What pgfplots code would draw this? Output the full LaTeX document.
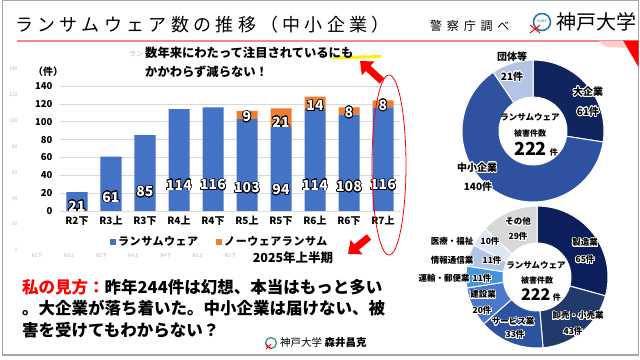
\documentclass[border=0pt]{standalone}
\usepackage{pgfplots}
\pgfplotsset{compat=1.18}
\usepackage{pgfplotstable}
\usepackage{fontspec}
\setmainfont{Noto Sans CJK JP}
\usepackage{contour}
\contourlength{0.7pt}
\contournumber{24}
\usetikzlibrary{arrows.meta}
\definecolor{ranblue}{HTML}{4472C4}
\definecolor{noorange}{HTML}{ED7D31}
\definecolor{titleline}{HTML}{F08A8A}
\definecolor{dA}{HTML}{10245E}
\definecolor{dB}{HTML}{2F52A0}
\definecolor{dC}{HTML}{B4C4E4}
\definecolor{eA}{HTML}{0C1F5C}
\definecolor{eB}{HTML}{213A6C}
\definecolor{eC}{HTML}{2D52A0}
\definecolor{eD}{HTML}{4A78CD}
\definecolor{eE}{HTML}{4196DE}
\definecolor{eF}{HTML}{B0C4E8}
\definecolor{eG}{HTML}{DDE6F4}
\definecolor{eH}{HTML}{D8D8D8}

\pgfplotstableread{
x ran nw
0 21 0
1 61 0
2 85 0
3 114 0
4 116 0
5 103 9
6 94 21
7 114 14
8 108 8
9 116 8
}\bardata

\pgfplotsset{
  vallab/.style={
    nodes near coords={\ifdim\rawv pt>0.5pt\contour{black}{\textcolor{white}{\pgfmathprintnumber{\rawv}}}\fi},
    every node near coord/.style={anchor=center, inner sep=0pt,
      yshift=-\rawv*0.22321pt, font=\bfseries\fontsize{14}{16}\selectfont},
  }
}

\begin{document}
\begin{tikzpicture}[x=1pt,y=1pt]
\path[use as bounding box] (0,0) rectangle (640,359);
\fill[white] (0,0) rectangle (640,359);

% ghost axis (faint)
\begin{axis}[at={(21pt,109pt)}, anchor=south west, scale only axis,
  width=322pt, height=181pt,
  xmin=-0.5, xmax=9.5, ymin=0, ymax=140, ytick={0,20,...,140}, xtick={0,...,6},
  xticklabels={R2下,R3上,R3下,R4上,R4下,R5上,R5下},
  axis line style={draw=none}, major tick length=0pt,
  tick label style={font=\fontsize{5}{6}\selectfont, text=gray!55},
  /pgf/number format/assume math mode=true]
\addplot[draw=none, forget plot] coordinates {(0,0)};
\end{axis}
\node[font=\fontsize{7}{8}\selectfont, text=gray!55] at (136,305) {ラン};

% frame
\draw[gray!70, line width=1.5pt] (2.5,4) rectangle (638.5,358.5);

% title
\node[anchor=west, inner sep=0, font=\fontsize{18}{20}\selectfont\addfontfeature{LetterSpace=24}] at (15,334) {ランサムウェア数の推移（中小企業）};
\node[anchor=west, inner sep=0, font=\fontsize{12}{14}\selectfont\addfontfeature{LetterSpace=40}] at (430,333) {警察庁調べ};
\draw[color={rgb,255:red,40;green,120;blue,170}, line width=1.6pt] (542,337) circle (8.5);
\node[font=\fontsize{3.5}{4}\selectfont, text={rgb,255:red,40;green,120;blue,170}] at (542,338) {KOBE};
\draw[red, line width=1pt] (530,326) -- (540,334) (530,334) -- (540,326);
\node[anchor=west, inner sep=0, font=\fontsize{20}{22}\selectfont] at (556,337) {神戸大学};
\draw[titleline, line width=1.5pt] (17,318) -- (624,318);
\fill[red!20] (598,318) -- (624,318) -- (628,311) -- (606,312) -- cycle;
\fill[red] (623,318.7) -- (638.5,318.7) -- (638.5,292) -- cycle;

% main bar chart
\begin{axis}[at={(60pt,148pt)}, anchor=south west, scale only axis,
  width=340pt, height=125pt,
  ybar stacked, bar width=21pt,
  xmin=-0.5, xmax=9.5, ymin=0, ymax=140, ytick={0,20,...,140},
  xtick={0,...,9},
  xticklabels={R2下,R3上,R3下,R4上,R4下,R5上,R5下,R6上,R6下,R7上},
  ymajorgrids, grid style={draw=gray!30, line width=0.6pt},
  axis line style={draw=none}, major tick length=0pt,
  yticklabel style={font=\bfseries\fontsize{9.5}{11}\selectfont, xshift=-4pt},
  xticklabel style={font=\bfseries\fontsize{10}{12}\selectfont, yshift=-2pt},
  /pgf/number format/assume math mode=true,
  legend style={at={(0.47,-0.248)}, anchor=center, draw=none, fill=none,
    legend columns=2,
    font=\bfseries\fontsize{11}{13}\selectfont\addfontfeature{LetterSpace=5},
    /tikz/every even column/.append style={column sep=16pt}},
  legend image code/.code={\fill[#1,draw=none] (0pt,-3pt) rectangle (6pt,3pt);},
]
\addplot[fill=ranblue, draw=none, visualization depends on={\thisrow{ran}\as\rawv}, vallab]
  table[x=x,y=ran] \bardata;
\addplot[fill=noorange, draw=none, visualization depends on={\thisrow{nw}\as\rawv}, vallab]
  table[x=x,y=nw] \bardata;
\legend{ランサムウェア, ノーウェアランサム}
\end{axis}
\node[font=\bfseries\fontsize{10}{12}\selectfont] at (48,287) {（件）};

% annotation
\draw[yellow, line width=3pt] (333,301) -- (381,302.5);
\node[anchor=west, inner sep=0, font=\bfseries\fontsize{12.3}{14}\selectfont] at (145,306) {数年来にわたって注目されているにも};
\node[anchor=west, inner sep=0, font=\bfseries\fontsize{12.3}{14}\selectfont] at (145,287) {かかわらず減らない！};
\draw[red, line width=7pt, -{Triangle[length=11pt,width=18pt]}] (382,278) -- (360,298);
\draw[red, line width=7pt, -{Triangle[length=11pt,width=18pt]}] (369,122) -- (348,105);
\draw[red, line width=0.8pt] (389,194) ellipse (17 and 90);
\node[font=\bfseries\fontsize{12.5}{14}\selectfont] at (293,101) {2025年上半期};

% bottom text
\node[anchor=west, inner sep=0, font=\bfseries\fontsize{16.5}{18}\selectfont] at (22,72) {\textcolor{red}{私の見方：}昨年244件は幻想、本当はもっと多い};
\node[anchor=west, inner sep=0, font=\bfseries\fontsize{16.5}{18}\selectfont] at (22,51) {。大企業が落ち着いた。中小企業は届けない、被};
\node[anchor=west, inner sep=0, font=\bfseries\fontsize{16.5}{18}\selectfont] at (22,29) {害を受けてもわからない？};
\draw[color={rgb,255:red,40;green,140;blue,120}, line width=1.2pt] (271,16) circle (5.5);
\draw[red, line width=0.8pt] (266,10) -- (271,15) (266,15) -- (271,10);
\node[anchor=west, inner sep=0, font=\fontsize{10.5}{12}\selectfont] at (280,16) {神戸大学\ \textbf{森井昌克}};

% donut 1
\def\cx{533}\def\cy{228}\def\ro{71}\def\ri{34}\def\tot{222}
\gdef\cum{0}
\foreach \v/\c in {61/dA,140/dB,21/dC}{
  \pgfmathsetmacro\aS{90-\cum/\tot*360}
  \pgfmathsetmacro\aE{90-(\cum+\v)/\tot*360}
  \fill[\c, draw=white, line width=1pt] ({\cx+\ro*cos(\aS)},{\cy+\ro*sin(\aS)}) arc[start angle=\aS, end angle=\aE, radius=\ro pt] -- ({\cx+\ri*cos(\aE)},{\cy+\ri*sin(\aE)}) arc[start angle=\aE, end angle=\aS, radius=\ri pt] -- cycle;
  \pgfmathsetmacro\newcum{\cum+\v}
  \xdef\cum{\newcum}
}
\begin{scope}[every node/.style={font=\bfseries\fontsize{10}{12}\selectfont, inner sep=0}]
\node at (512,302) {\contour{white}{団体等}};
\node at (512,282) {\contour{white}{21件}};
\node at (588,267) {\contour{white}{大企業}};
\node at (588,247) {\contour{white}{61件}};
\node at (477,191) {\contour{white}{中小企業}};
\node at (478,172) {\contour{white}{140件}};
\end{scope}
\node[font=\bfseries\fontsize{8.5}{10}\selectfont] at (530,242) {ランサムウェア};
\node[font=\bfseries\fontsize{8}{10}\selectfont] at (530,226) {被害件数};
\node[font=\bfseries\fontsize{18}{20}\selectfont] at (536,210) {222\,{\fontsize{8}{10}\selectfont 件}};

% donut 2
\def\cx{537}\def\cy{82}\def\ro{71}\def\ri{34}
\gdef\cum{0}
\foreach \v/\c in {65/eA,43/eB,33/eC,20/eD,11/eE,11/eF,10/eG,29/eH}{
  \pgfmathsetmacro\aS{90-\cum/\tot*360}
  \pgfmathsetmacro\aE{90-(\cum+\v)/\tot*360}
  \fill[\c, draw=white, line width=1pt] ({\cx+\ro*cos(\aS)},{\cy+\ro*sin(\aS)}) arc[start angle=\aS, end angle=\aE, radius=\ro pt] -- ({\cx+\ri*cos(\aE)},{\cy+\ri*sin(\aE)}) arc[start angle=\aE, end angle=\aS, radius=\ri pt] -- cycle;
  \pgfmathsetmacro\newcum{\cum+\v}
  \xdef\cum{\newcum}
}
\begin{scope}[every node/.style={font=\bfseries\fontsize{8.5}{10}\selectfont, inner sep=0}]
\node at (518,137) {\contour{white}{その他}};
\node at (518,122) {\contour{white}{29件}};
\node at (585,116) {\contour{white}{製造業}};
\node at (585,99) {\contour{white}{65件}};
\node at (452,117) {\contour{white}{医療・福祉}};
\node at (490,117) {\contour{white}{10件}};
\node at (452,98) {\contour{white}{情報通信業}};
\node at (492,98) {\contour{white}{11件}};
\node at (444,80) {\contour{white}{運輸・郵便業}};
\node at (482,80) {\contour{white}{11件}};
\node at (483,64) {\contour{white}{建設業}};
\node at (482,48) {\contour{white}{20件}};
\node at (513,37) {\contour{white}{サービス業}};
\node at (515,24) {\contour{white}{33件}};
\node at (578,43) {\contour{white}{卸売・小売業}};
\node at (573,27) {\contour{white}{43件}};
\end{scope}
\node[font=\bfseries\fontsize{8.5}{10}\selectfont] at (536,94) {ランサムウェア};
\node[font=\bfseries\fontsize{8}{10}\selectfont] at (537,79) {被害件数};
\node[font=\bfseries\fontsize{16}{18}\selectfont] at (541,64) {222\,{\fontsize{8}{10}\selectfont 件}};
\end{tikzpicture}
\end{document}
